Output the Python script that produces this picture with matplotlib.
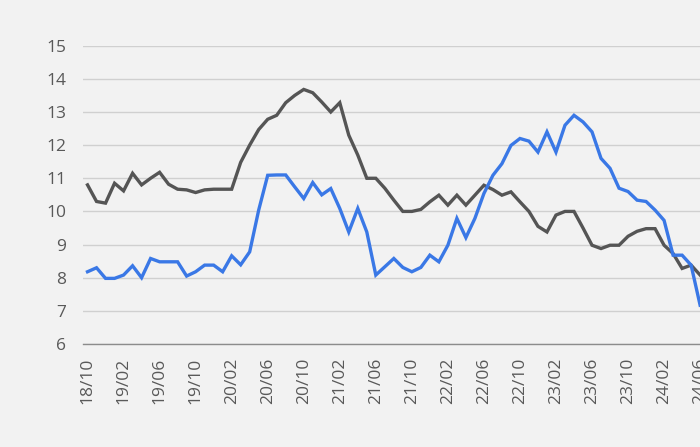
import matplotlib
matplotlib.use("Agg")
import matplotlib.pyplot as plt
import pandas as pd

# monthly values, 2018/10 .. 2024/06
months = pd.date_range("2018-10-01", periods=69, freq="MS").strftime("%y/%m").tolist()

gray_vals = [10.8, 10.3, 10.25, 10.85, 10.62, 11.15, 10.8, 11.0, 11.18, 10.82,
             10.67, 10.65, 10.57, 10.65, 10.67, 10.67, 10.67, 11.48, 12.0, 12.47,
             12.78, 12.9, 13.28, 13.5, 13.68, 13.58, 13.3, 13.0, 13.28, 12.3,
             11.7, 11.0, 11.0, 10.7, 10.34, 10.0, 10.0, 10.06, 10.29, 10.49,
             10.19, 10.49, 10.19, 10.49, 10.79, 10.66, 10.49, 10.59, 10.29, 10.0,
             9.55, 9.38, 9.89, 10.0, 10.0, 9.5, 8.98, 8.88, 8.98, 8.98,
             9.25, 9.4, 9.48, 9.48, 8.98, 8.73, 8.28, 8.38, 8.08]

blue_vals = [8.18, 8.3, 7.98, 7.98, 8.08, 8.36, 8.0, 8.58, 8.48, 8.48,
             8.48, 8.05, 8.18, 8.38, 8.38, 8.18, 8.66, 8.39, 8.78, 10.04,
             11.09, 11.1, 11.1, 10.74, 10.39, 10.87, 10.5, 10.69, 10.09, 9.38,
             10.09, 9.38, 8.08, 8.33, 8.58, 8.31, 8.18, 8.31, 8.68, 8.48,
             8.98, 9.79, 9.21, 9.79, 10.54, 11.09, 11.44, 11.99, 12.2, 12.12,
             11.79, 12.4, 11.79, 12.6, 12.9, 12.7, 12.4, 11.6, 11.3, 10.7,
             10.6, 10.34, 10.3, 10.04, 9.73, 8.68, 8.68, 8.38, 7.17]

bg = "#f2f2f2"
fig = plt.figure(figsize=(7, 4.47), dpi=100, facecolor=bg)
ax = fig.add_axes([0.1186, 0.2304, 0.888, 0.6674], facecolor=bg)

x = range(len(months))
ax.plot(x, gray_vals, color="#555555", lw=2.4, solid_joinstyle="miter", zorder=3)
ax.plot(x, blue_vals, color="#3a78e6", lw=2.4, solid_joinstyle="miter", zorder=4)

ax.set_xlim(-0.5, 68.5)
ax.set_ylim(6, 15)
ax.set_yticks(range(6, 16))
ax.set_xticks(list(x)[::4])
ax.set_xticklabels(months[::4], rotation=90)

ax.grid(axis="y", color="#d0d0d0", lw=1)
ax.set_axisbelow(True)
for s in ["top", "right", "left"]:
    ax.spines[s].set_visible(False)
ax.spines["bottom"].set_color("#8c8c8c")
ax.spines["bottom"].set_linewidth(1)

ax.tick_params(axis="both", length=0, labelcolor="#595959", labelsize=12.5)
ax.tick_params(axis="y", pad=12)
ax.tick_params(axis="x", pad=10)
for lab in ax.get_xticklabels() + ax.get_yticklabels():
    lab.set_fontfamily("Open Sans")

fig.savefig("out.png", dpi=100, facecolor=bg)
